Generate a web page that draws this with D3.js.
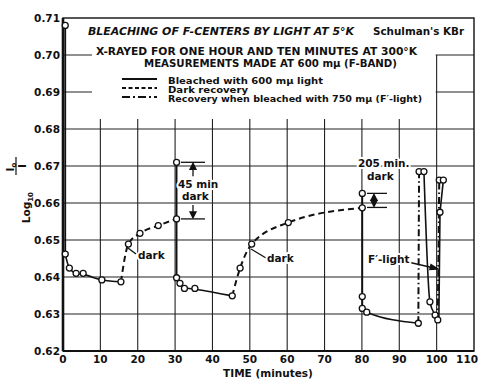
<!DOCTYPE html>
<html>
<head>
<meta charset="utf-8">
<script src="https://cdn.jsdelivr.net/npm/d3@7/dist/d3.min.js"></script>
<style>
  body { margin: 0; background: #fff; }
  text { font-family: "DejaVu Sans", sans-serif; font-weight: bold; fill: #111; }
  .halo { stroke: #fff; stroke-width: 4px; paint-order: stroke; stroke-linejoin: round; }
</style>
</head>
<body>
<svg width="479" height="379"></svg>
<script>
const xTicks = [0, 10, 20, 30, 40, 50, 60, 70, 80, 90, 100, 110];
const yTicks = [0.62, 0.63, 0.64, 0.65, 0.66, 0.67, 0.68, 0.69, 0.70, 0.71];

// bleached with 600 mu light (solid)
const bleachDrops = [
  [[0.6, 0.708], [0.6, 0.6462]],
  [[30.4, 0.671], [30.4, 0.6398]],
  [[80.1, 0.6626], [80.1, 0.6315]]
];
const bleachDecays = [
  [[0.6, 0.6462], [1.7, 0.6424], [3.5, 0.6410], [5.4, 0.6407], [10.4, 0.6392], [15.5, 0.6387]],
  [[30.4, 0.6398], [31.3, 0.6383], [32.5, 0.6371], [35.3, 0.6367], [45.3, 0.6349]],
  [[80.1, 0.6315], [81.3, 0.6305], [95.1, 0.6275]],
  [[96.6, 0.6685], [98.2, 0.6333], [99.6, 0.6297], [100.3, 0.6284]]
];
const bleachLast = [[101.8, 0.6662], [100.9, 0.6575], [100.6, 0.6290]];

// dark recovery (dashed)
const darkRecovery = [
  [[15.5, 0.6387], [17.5, 0.6489], [20.6, 0.6518], [25.5, 0.6539], [30.4, 0.6557]],
  [[45.3, 0.6349], [47.4, 0.6424], [50.5, 0.6489], [60.3, 0.6547], [80.1, 0.6587]]
];

// recovery when bleached with 750 mu (dash-dot)
const fLight = [
  [[95.1, 0.6275], [95.3, 0.6685]],
  [[100.3, 0.6284], [100.7, 0.6662]]
];

const points = [
  [0.6, 0.708], [0.6, 0.6462], [1.7, 0.6424], [3.5, 0.6410], [5.4, 0.6410], [10.4, 0.6392], [15.5, 0.6387],
  [17.5, 0.6489], [20.6, 0.6518], [25.5, 0.6539], [30.4, 0.6557], [30.4, 0.671],
  [30.4, 0.6398], [31.3, 0.6383], [32.5, 0.6369], [35.3, 0.6369], [45.3, 0.6349],
  [47.4, 0.6424], [50.5, 0.6489], [60.3, 0.6547], [80.1, 0.6587], [80.1, 0.6626],
  [80.1, 0.6347], [80.1, 0.6315], [81.3, 0.6305], [95.1, 0.6275],
  [95.3, 0.6685], [96.6, 0.6685], [98.2, 0.6333], [99.6, 0.6297], [100.3, 0.6284],
  [100.7, 0.6662], [101.8, 0.6662], [100.9, 0.6575]
];

const svg = d3.select('svg');
const x = d3.scaleLinear().domain([0, 110]).range([63, 474]);
const y = d3.scaleLinear().domain([0.62, 0.71]).range([351, 18]);

// grid
const grid = svg.append('g').attr('stroke', '#222').attr('stroke-width', 1.1);
grid.selectAll('.h').data(yTicks.slice(1, -1)).join('line')
  .attr('x1', x(0)).attr('x2', x(110))
  .attr('y1', d => y(d)).attr('y2', d => y(d));
grid.selectAll('.v').data(xTicks.slice(1, -1)).join('line')
  .attr('x1', d => x(d)).attr('x2', d => x(d))
  .attr('y1', d => d === 100 ? y(0.70) : 118).attr('y2', y(0.62));

// blank area behind the title block
svg.append('rect').attr('x', x(0) + 1).attr('y', y(0.71) + 1)
  .attr('width', x(110) - x(0) - 2).attr('height', y(0.70) - y(0.71) - 2).attr('fill', '#fff');
svg.append('rect').attr('x', 92).attr('y', y(0.71) + 1)
  .attr('width', x(100) - 92 - 1).attr('height', 118 - y(0.71)).attr('fill', '#fff');

// frame
svg.append('rect').attr('x', x(0)).attr('y', y(0.71))
  .attr('width', x(110) - x(0)).attr('height', y(0.62) - y(0.71))
  .attr('fill', 'none').attr('stroke', '#111').attr('stroke-width', 1.4);
svg.append('line').attr('x1', x(0)).attr('x2', x(0)).attr('y1', y(0.71)).attr('y2', y(0.62))
  .attr('stroke', '#111').attr('stroke-width', 2.6);
svg.append('line').attr('x1', x(0)).attr('x2', x(110)).attr('y1', y(0.62)).attr('y2', y(0.62))
  .attr('stroke', '#111').attr('stroke-width', 2.2);

// tick labels
svg.append('g').selectAll('text').data(yTicks).join('text')
  .attr('x', 60).attr('y', d => y(d) + 4)
  .attr('text-anchor', 'end').attr('font-size', 10.5)
  .text(d3.format('.2f'));
svg.append('g').selectAll('text').data(xTicks).join('text')
  .attr('x', d => d === 110 ? 478 : x(d)).attr('y', 363)
  .attr('text-anchor', d => d === 110 ? 'end' : 'middle').attr('font-size', 10.5)
  .text(d => d);
svg.append('text').attr('x', 268).attr('y', 377).attr('text-anchor', 'middle')
  .attr('font-size', 10.5).text('TIME (minutes)');

// y label
const yl = svg.append('g').attr('transform', 'translate(30, 192) rotate(-90)');
yl.append('text').attr('x', 0).attr('y', 0).attr('font-size', 10.5).attr('text-anchor', 'end')
  .text('Log').append('tspan').attr('font-size', 7).attr('dy', 3).text('10');
yl.append('text').attr('x', 25).attr('y', -16.5).attr('font-size', 10.5).attr('text-anchor', 'middle')
  .text('I').append('tspan').attr('font-size', 7).attr('dy', 2).text('o');
yl.append('line').attr('x1', 17).attr('x2', 35).attr('y1', -14).attr('y2', -14)
  .attr('stroke', '#111').attr('stroke-width', 1.2);
yl.append('text').attr('x', 26).attr('y', -4).attr('font-size', 10.5).attr('text-anchor', 'middle').text('I');

// lines
const lineLin = d3.line().x(d => x(d[0])).y(d => y(d[1]));
const lineMono = d3.line().x(d => x(d[0])).y(d => y(d[1])).curve(d3.curveMonotoneX);
const marks = svg.append('g').attr('fill', 'none').attr('stroke', '#111');
marks.selectAll('.drop').data(bleachDrops).join('path')
  .attr('d', lineLin).attr('stroke-width', 1.8);
marks.selectAll('.decay').data(bleachDecays).join('path')
  .attr('d', lineMono).attr('stroke-width', 1.6);
marks.append('path').datum(bleachLast).attr('d', lineLin).attr('stroke-width', 1.6);
marks.selectAll('.dark').data(darkRecovery).join('path')
  .attr('d', lineMono).attr('stroke-width', 2).attr('stroke-dasharray', '6,4');
marks.selectAll('.fl').data(fLight).join('path')
  .attr('d', lineLin).attr('stroke-width', 2).attr('stroke-dasharray', '7,3,1.5,3');

svg.append('g').selectAll('circle').data(points).join('circle')
  .attr('cx', d => x(d[0])).attr('cy', d => y(d[1])).attr('r', 3)
  .attr('fill', '#fff').attr('stroke', '#111').attr('stroke-width', 1.3);

// title block
svg.append('text').attr('x', 88).attr('y', 35).attr('font-size', 11).attr('font-style', 'italic')
  .attr('textLength', 266).attr('lengthAdjust', 'spacingAndGlyphs')
  .text('BLEACHING OF F-CENTERS BY LIGHT AT 5°K');
svg.append('text').attr('x', 373).attr('y', 35).attr('font-size', 10.5)
  .attr('textLength', 91).attr('lengthAdjust', 'spacingAndGlyphs')
  .text("Schulman's KBr");
svg.append('text').attr('x', 96).attr('y', 55).attr('font-size', 10.5)
  .attr('textLength', 321).attr('lengthAdjust', 'spacingAndGlyphs')
  .text('X-RAYED FOR ONE HOUR AND TEN MINUTES AT 300°K');
svg.append('text').attr('x', 144).attr('y', 67).attr('font-size', 10.5)
  .attr('textLength', 253).attr('lengthAdjust', 'spacingAndGlyphs')
  .text('MEASUREMENTS MADE AT 600 mμ (F-BAND)');

const legendItems = [
  { label: 'Bleached with 600 mμ light', dash: null, len: 155 },
  { label: 'Dark recovery', dash: '4,2.5', len: 80 },
  { label: "Recovery when bleached with 750 mμ (F′-light)", dash: '8,3,2,3', len: 254 }
];
const lg = svg.append('g');
legendItems.forEach((d, i) => {
  const yy = 79 + i * 9;
  lg.append('line').attr('x1', 122).attr('x2', 157).attr('y1', yy).attr('y2', yy)
    .attr('stroke', '#111').attr('stroke-width', 2).attr('stroke-dasharray', d.dash);
  lg.append('text').attr('x', 168).attr('y', yy + 4.5).attr('font-size', 8.8)
    .attr('textLength', d.len).attr('lengthAdjust', 'spacingAndGlyphs').text(d.label);
});

// annotations
const ann = svg.append('g').attr('stroke', '#111').attr('fill', 'none').attr('stroke-width', 1.3);
function bracket(xa, xb, v1, v2, xm, split) {
  ann.append('line').attr('x1', xa).attr('x2', xb).attr('y1', y(v1)).attr('y2', y(v1));
  ann.append('line').attr('x1', xa).attr('x2', xb).attr('y1', y(v2)).attr('y2', y(v2));
  const t = y(v1), b = y(v2);
  if (split) {
    ann.append('line').attr('x1', xm).attr('x2', xm).attr('y1', t + 2).attr('y2', t + 14);
    ann.append('line').attr('x1', xm).attr('x2', xm).attr('y1', b - 14).attr('y2', b - 2);
  } else {
    ann.append('line').attr('x1', xm).attr('x2', xm).attr('y1', t + 2).attr('y2', b - 2);
  }
  ann.append('path').attr('d', `M${xm},${t + 1}l-3,6h6z`).attr('fill', '#111');
  ann.append('path').attr('d', `M${xm},${b - 1}l-3,-6h6z`).attr('fill', '#111');
}
bracket(181, 205, 0.671, 0.6557, 193, true);
bracket(367, 387, 0.6626, 0.6588, 374, false);

function label(tx, ty, s, size) {
  svg.append('text').attr('class', 'halo').attr('x', tx).attr('y', ty)
    .attr('font-size', size || 10.5).text(s);
}
label(178, 188, '45 min');
label(182, 200, 'dark');
label(358, 167, '205 min.');
label(367, 180, 'dark');

ann.append('line').attr('x1', 136).attr('y1', 254).attr('x2', 128).attr('y2', 248);
label(138, 259, 'dark');
ann.append('line').attr('x1', 266).attr('y1', 258).attr('x2', 251).attr('y2', 249);
label(267, 262, 'dark');

ann.append('line').attr('x1', 408).attr('y1', 262).attr('x2', 434).attr('y2', 268);
ann.append('path').attr('d', 'M438,269l-7,-4.5l-1.2,5z').attr('fill', '#111');
label(368, 263, 'F′-light');
</script>
</body>
</html>
